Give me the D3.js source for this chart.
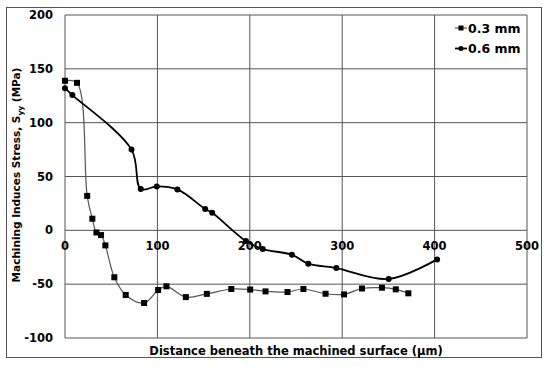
<!DOCTYPE html>
<html><head><meta charset="utf-8">
<script src="https://cdn.jsdelivr.net/npm/d3@7"></script>
<style>body{margin:0;background:#fff}svg{display:block}text{font-family:"DejaVu Sans",Verdana,sans-serif;font-weight:bold;fill:#000}</style>
</head><body><svg id="c" width="550" height="367"></svg>
<script>
const seriesNames = ["0.3 mm", "0.6 mm"];
const x03 = [0, 13, 24, 29.6, 34, 39, 43.7, 53.4, 65.7, 85.6, 100.8, 109.8, 130.8, 153.5, 180, 200.4, 217, 240.8, 258, 282, 302, 321.4, 343, 358, 371.6];
const y03 = [138.9, 137, 32, 10.8, -2, -4.4, -14, -43.6, -60, -67.5, -55.4, -52, -62, -59, -54.5, -55, -56.7, -57.3, -54.5, -58.9, -59.5, -54, -53.3, -54.8, -58.5];
const x06 = [0, 8, 72, 82, 99.3, 121.7, 151.7, 159.3, 195.8, 214, 245.6, 263.3, 293.6, 350.3, 402.7];
const y06 = [132, 125.6, 75, 38.3, 40.8, 38, 19.8, 16.3, -10, -17.4, -22.7, -31, -35, -45.2, -27];
const xTicks = [0, 100, 200, 300, 400, 500];
const yTicks = [-100, -50, 0, 50, 100, 150, 200];

const svg = d3.select("#c");
const L = 65, R = 527, T = 15, B = 338;
const x = d3.scaleLinear().domain([0, 500]).range([L, R]);
const y = d3.scaleLinear().domain([-100, 200]).range([B, T]);

svg.append("rect").attr("x", 6.5).attr("y", 7.5).attr("width", 535).attr("height", 350)
  .attr("fill", "none").attr("stroke", "#555").attr("stroke-width", 1);

const g = svg.append("g");
g.selectAll(".vg").data(xTicks).join("line")
  .attr("x1", d => x(d)).attr("x2", d => x(d)).attr("y1", T).attr("y2", B)
  .attr("stroke", "#555").attr("stroke-width", 1);
g.selectAll(".hg").data(yTicks).join("line")
  .attr("x1", L).attr("x2", R).attr("y1", d => y(d)).attr("y2", d => y(d))
  .attr("stroke", "#555").attr("stroke-width", 1);

svg.selectAll(".yt").data(yTicks).join("text")
  .attr("x", 53).attr("y", d => y(d)).attr("dy", "0.36em").attr("text-anchor", "end")
  .attr("font-size", 11.5).text(d => d);
svg.selectAll(".xt").data(xTicks).join("text")
  .attr("x", d => x(d)).attr("y", y(0) + 20).attr("text-anchor", "middle")
  .attr("font-size", 11.5).text(d => d);

const curve = d3.curveCatmullRom.alpha(0.5);
const d03 = x03.map((v, i) => [v, y03[i]]);
const d06 = x06.map((v, i) => [v, y06[i]]);
const line = d3.line().x(d => x(d[0])).y(d => y(d[1])).curve(curve);

svg.append("path").attr("d", line(d03)).attr("fill", "none").attr("stroke", "#555").attr("stroke-width", 1.2);
svg.append("path").attr("d", line(d06)).attr("fill", "none").attr("stroke", "#000").attr("stroke-width", 1.8);

svg.selectAll(".sq").data(d03).join("rect")
  .attr("x", d => x(d[0]) - 3).attr("y", d => y(d[1]) - 3).attr("width", 6).attr("height", 6).attr("fill", "#000");
svg.selectAll(".ci").data(d06).join("circle")
  .attr("cx", d => x(d[0])).attr("cy", d => y(d[1])).attr("r", 3).attr("fill", "#000");

// legend
const lg = svg.append("g");
[0, 1].forEach(i => {
  const ly = 28 + i * 20.5;
  lg.append("line").attr("x1", 455).attr("x2", 467).attr("y1", ly).attr("y2", ly)
    .attr("stroke", i ? "#000" : "#555").attr("stroke-width", i ? 1.8 : 1.2);
  if (i === 0) lg.append("rect").attr("x", 458.5).attr("y", ly - 2.5).attr("width", 5).attr("height", 5).attr("fill", "#000");
  else lg.append("circle").attr("cx", 461).attr("cy", ly).attr("r", 2.5).attr("fill", "#000");
  lg.append("text").attr("x", 468).attr("y", ly).attr("dy", "0.36em").attr("font-size", 12.5).text(seriesNames[i]);
});

svg.append("text").attr("x", 296).attr("y", 355).attr("text-anchor", "middle").attr("font-size", 11.5)
  .text("Distance beneath the machined surface (\u00b5m)");
const yt = svg.append("text").attr("transform", "translate(20,175) rotate(-90)").attr("text-anchor", "middle").attr("font-size", 10.5);
yt.append("tspan").text("Machining Induces Stress, S");
yt.append("tspan").attr("font-size", 7.5).attr("dy", 3).text("yy");
yt.append("tspan").attr("dy", -3).text(" (MPa)");
</script></body></html>
